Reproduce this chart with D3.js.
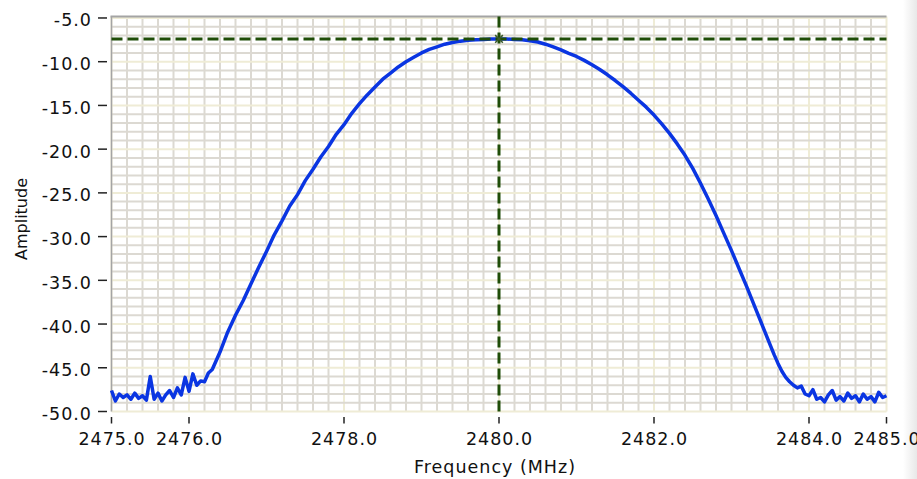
<!DOCTYPE html>
<html>
<head>
<meta charset="utf-8">
<script src="https://cdn.jsdelivr.net/npm/d3@7"></script>
<style>
  body { margin: 0; background: #ffffff; }
  svg { display: block; }
  text { font-family: "DejaVu Sans", sans-serif; fill: #111; }
</style>
</head>
<body>
<svg id="grafico"></svg>
<script>
// espectro medido (MHz, dB)
const frequencias = [
  2475.00, 2475.05, 2475.10, 2475.15, 2475.20, 2475.25, 2475.30, 2475.35, 2475.40, 2475.45,
  2475.50, 2475.55, 2475.60, 2475.65, 2475.70, 2475.75, 2475.80, 2475.85, 2475.90, 2475.95,
  2476.00, 2476.05, 2476.10, 2476.15, 2476.20, 2476.25, 2476.30,
  2476.4, 2476.5, 2476.6, 2476.7, 2476.8, 2476.9, 2477.0, 2477.1, 2477.2, 2477.3,
  2477.4, 2477.5, 2477.6, 2477.7, 2477.8, 2477.9, 2478.0, 2478.1, 2478.2, 2478.3,
  2478.4, 2478.5, 2478.6, 2478.7, 2478.8, 2478.9, 2479.0, 2479.1, 2479.2, 2479.3,
  2479.4, 2479.5, 2479.6, 2479.7, 2479.8, 2479.9, 2480.0, 2480.1, 2480.2, 2480.3,
  2480.4, 2480.5, 2480.6, 2480.7, 2480.8, 2480.9, 2481.0, 2481.1, 2481.2, 2481.3,
  2481.4, 2481.5, 2481.6, 2481.7, 2481.8, 2481.9, 2482.0, 2482.1, 2482.2, 2482.3,
  2482.4, 2482.5, 2482.6, 2482.7, 2482.8, 2482.9, 2483.0, 2483.1, 2483.2, 2483.3,
  2483.4, 2483.5,
  2483.55, 2483.60, 2483.65, 2483.70, 2483.75, 2483.80, 2483.85, 2483.90, 2483.95, 2484.00,
  2484.05, 2484.10, 2484.15, 2484.20, 2484.25, 2484.30, 2484.35, 2484.40, 2484.45, 2484.50,
  2484.55, 2484.60, 2484.65, 2484.70, 2484.75, 2484.80, 2484.85, 2484.90, 2484.95, 2485.00
];
const amplitudes = [
  -47.6, -48.8, -48.0, -48.4, -48.1, -48.6, -47.9, -48.5, -48.2, -48.7,
  -46.0, -48.6, -47.9, -48.8, -48.1, -47.6, -48.4, -47.3, -48.1, -46.1,
  -47.7, -45.7, -47.0, -46.5, -46.6, -45.6, -45.2,
  -43.2, -40.9, -39.0, -37.3, -35.4, -33.5, -31.7, -29.8, -28.2, -26.5,
  -25.2, -23.6, -22.3, -20.9, -19.7, -18.3, -17.2, -15.9, -14.8, -13.8,
  -12.9, -12.0, -11.3, -10.6, -10.0, -9.5, -9.0, -8.6, -8.3, -8.0,
  -7.8, -7.65, -7.55, -7.5, -7.45, -7.4, -7.4, -7.4, -7.45, -7.5,
  -7.6, -7.75, -8.0, -8.3, -8.65, -9.05, -9.4, -9.85, -10.35, -10.9,
  -11.5, -12.15, -12.85, -13.6, -14.4, -15.2, -16.1, -17.1, -18.2, -19.4,
  -20.7, -22.2, -23.9, -25.7, -27.6, -29.6, -31.6, -33.7, -35.8, -38.0,
  -40.2, -42.4,
  -43.5, -44.5, -45.4, -46.1, -46.6, -47.0, -47.3, -47.1, -48.0, -48.2,
  -47.5, -48.6, -48.4, -48.9, -48.1, -47.6, -48.7, -48.3, -48.8, -47.9,
  -48.5, -48.2, -48.9, -48.0, -48.6, -48.3, -48.9, -47.8, -48.4, -48.2
];

const ticksX = [2475, 2476, 2478, 2480, 2482, 2484, 2485];
const ticksY = [-50, -45, -40, -35, -30, -25, -20, -15, -10, -5];
const cursorX = 2480.0;
const cursorY = -7.4;

const largura = 917, altura = 479;

let margem = {
    esquerda: 111.5,
    direita: 30.5,
    superior: 16.5,
    inferior: 67.5
};

let svg = d3.select('#grafico')
    .attr('width', largura)
    .attr('height', altura);

let fnX = d3.scaleLinear()
    .domain([2475, 2485])
    .range([margem.esquerda, largura - margem.direita]);

let fnY = d3.scaleLinear()
    .domain([-50, -50 + (altura - margem.inferior - margem.superior) / 8.745])
    .range([altura - margem.inferior, margem.superior]);

let x0 = fnX.range()[0], x1 = fnX.range()[1];
let y0 = fnY.range()[0], y1 = fnY.range()[1];

// faixa cinza na direita
let grad = svg.append('defs').append('linearGradient').attr('id', 'faixa');
grad.append('stop').attr('offset', '0%').attr('stop-color', '#ffffff');
grad.append('stop').attr('offset', '100%').attr('stop-color', '#e8e8e8');
svg.append('rect')
    .attr('x', 903).attr('y', 0).attr('width', 14).attr('height', altura)
    .attr('fill', 'url(#faixa)');

let plotagem = svg.append('g');

// grade menor e maior
let gradeX = fnX.ticks(50);
let gradeY = d3.range(-50, -4, 1);
let ehMaiorX = v => ticksX.some(t => Math.abs(t - v) < 1e-6);
let ehMaiorY = v => ticksY.indexOf(v) >= 0;

plotagem.selectAll('.gradeX').data(gradeX).enter().append('line')
    .attr('x1', d => fnX(d)).attr('x2', d => fnX(d))
    .attr('y1', y1).attr('y2', y0)
    .attr('stroke', d => ehMaiorX(d) ? '#efecd6' : '#dcd9d2')
    .attr('stroke-width', 2);

plotagem.selectAll('.gradeY').data(gradeY).enter().append('line')
    .attr('y1', d => fnY(d)).attr('y2', d => fnY(d))
    .attr('x1', x0).attr('x2', x1)
    .attr('stroke', d => ehMaiorY(d) ? '#efecd6' : '#dcd9d2')
    .attr('stroke-width', 2);

// bordas
plotagem.append('line')
    .attr('x1', x0 - 1).attr('x2', x1).attr('y1', y1).attr('y2', y1)
    .attr('stroke', '#a4a4a4').attr('stroke-width', 2);
plotagem.append('line')
    .attr('x1', x0).attr('x2', x0).attr('y1', y1).attr('y2', y0)
    .attr('stroke', '#a4a4a4').attr('stroke-width', 1.5);

// curva
let linha = d3.line()
    .x((d, i) => fnX(frequencias[i]))
    .y(d => fnY(d));

plotagem.append('path')
    .datum(amplitudes)
    .attr('d', linha)
    .attr('fill', 'none')
    .attr('stroke', '#0a35e2')
    .attr('stroke-width', 3.5)
    .attr('stroke-linejoin', 'round');

// cursor
let corCursor = '#1f4d08';
plotagem.append('line')
    .attr('x1', x0).attr('x2', x1)
    .attr('y1', fnY(cursorY)).attr('y2', fnY(cursorY))
    .attr('stroke', corCursor).attr('stroke-width', 3)
    .attr('stroke-dasharray', '11,5');
plotagem.append('line')
    .attr('x1', fnX(cursorX)).attr('x2', fnX(cursorX))
    .attr('y1', y1).attr('y2', y0)
    .attr('stroke', corCursor).attr('stroke-width', 3)
    .attr('stroke-dasharray', '11,5');
plotagem.append('path')
    .attr('d', d3.symbol(d3.symbolX, 40)())
    .attr('transform', 'translate(' + fnX(cursorX) + ',' + fnY(cursorY) + ')')
    .attr('fill', 'none').attr('stroke', '#3a5a2a').attr('stroke-width', 1.5);

// eixo X
let eixoX = svg.append('g');
eixoX.selectAll('.tickX').data(ticksX).enter().append('line')
    .attr('x1', d => fnX(d)).attr('x2', d => fnX(d))
    .attr('y1', y0 + 5.5).attr('y2', y0 + 12)
    .attr('stroke', '#222').attr('stroke-width', 1.5);
eixoX.selectAll('.rotuloX').data(ticksX).enter().append('text')
    .attr('x', d => fnX(d) + 0.5)
    .attr('y', 445)
    .style('text-anchor', 'middle')
    .style('font-size', '17.5px')
    .style('letter-spacing', '1px')
    .text(d => d.toFixed(1));

// eixo Y
let eixoY = svg.append('g');
eixoY.selectAll('.tickY').data(ticksY).enter().append('line')
    .attr('x1', 98).attr('x2', 107)
    .attr('y1', d => fnY(d)).attr('y2', d => fnY(d))
    .attr('stroke', '#222').attr('stroke-width', 1.5);
eixoY.selectAll('.rotuloY').data(ticksY).enter().append('text')
    .attr('x', 92)
    .attr('y', d => fnY(d) + 8.5)
    .style('text-anchor', 'end')
    .style('font-size', '17.5px')
    .style('letter-spacing', '1px')
    .text(d => d.toFixed(1));

// titulos
svg.append('text')
    .attr('x', 495)
    .attr('y', 472.5)
    .style('text-anchor', 'middle')
    .style('font-size', '17.5px')
    .style('letter-spacing', '1px')
    .text('Frequency (MHz)');

svg.append('text')
    .attr('transform', 'translate(26.5, 219) rotate(-90)')
    .style('text-anchor', 'middle')
    .style('font-size', '16px')
    .text('Amplitude');
</script>
</body>
</html>
